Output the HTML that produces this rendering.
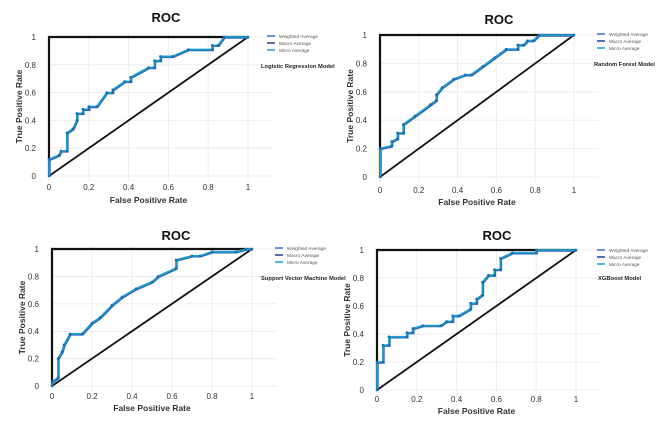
<!DOCTYPE html>
<html><head><meta charset="utf-8"><style>
html,body{margin:0;padding:0;background:#fff;width:669px;height:430px;overflow:hidden}
svg{display:block;font-family:"Liberation Sans",Arial,sans-serif}
</style></head><body>
<svg id="c" width="669" height="430"></svg>
<script>
const ticks=[0,0.2,0.4,0.6,0.8,1];
const tickLabels=["0","0.2","0.4","0.6","0.8","1"];
const legendLabels=["Weighted Average","Macro Average","Micro Average"];
const lrFpr=[0,0,0.05,0.06,0.09,0.09,0.12,0.14,0.14,0.17,0.17,0.2,0.2,0.24,0.29,0.32,0.32,0.38,0.41,0.41,0.5,0.53,0.53,0.56,0.56,0.62,0.7,0.82,0.82,0.85,0.88,1];
const lrTpr=[0,0.12,0.15,0.18,0.18,0.31,0.34,0.4,0.45,0.45,0.48,0.48,0.5,0.5,0.6,0.6,0.62,0.68,0.68,0.71,0.78,0.78,0.83,0.83,0.86,0.86,0.91,0.91,0.94,0.94,1,1];
const rfFpr=[0,0,0.06,0.06,0.09,0.09,0.12,0.12,0.18,0.26,0.29,0.29,0.32,0.38,0.44,0.47,0.53,0.59,0.65,0.71,0.71,0.74,0.76,0.79,0.82,1];
const rfTpr=[0,0.2,0.22,0.25,0.27,0.31,0.31,0.37,0.43,0.51,0.54,0.58,0.63,0.69,0.72,0.72,0.78,0.84,0.9,0.9,0.93,0.93,0.96,0.96,1,1];
const svmFpr=[0,0,0.03,0.03,0.05,0.06,0.09,0.15,0.2,0.24,0.3,0.35,0.42,0.5,0.53,0.62,0.62,0.7,0.74,0.8,0.92,0.97,1];
const svmTpr=[0,0.03,0.06,0.2,0.25,0.3,0.38,0.38,0.46,0.5,0.59,0.65,0.71,0.76,0.8,0.86,0.92,0.95,0.95,0.98,0.98,1,1];
const xgFpr=[0,0,0.03,0.03,0.06,0.06,0.15,0.15,0.18,0.18,0.23,0.32,0.35,0.38,0.38,0.41,0.47,0.47,0.5,0.5,0.53,0.53,0.56,0.59,0.59,0.62,0.62,0.68,0.8,0.8,1];
const xgTpr=[0,0.2,0.2,0.32,0.32,0.38,0.38,0.41,0.41,0.44,0.46,0.46,0.49,0.49,0.53,0.53,0.58,0.62,0.62,0.65,0.68,0.77,0.82,0.82,0.86,0.86,0.94,0.98,0.98,1,1];

const panels=[
 {name:"logistic-regression",x0:49,x1:248,y0:176,y1:37,title:[166,22],model:"Logistic Regression Model",leg:[267,36],ml:[261,68],fpr:lrFpr,tpr:lrTpr,ty:190,xt:203},
 {name:"random-forest",x0:380,x1:574,y0:177,y1:35,title:[499,24],model:"Random Forest Model",leg:[597,34],ml:[594,66],fpr:rfFpr,tpr:rfTpr,ty:193,xt:205},
 {name:"svm",x0:52,x1:252,y0:386,y1:249,title:[176,240],model:"Support Vector Machine Model",leg:[275,248],ml:[261,280],fpr:svmFpr,tpr:svmTpr,ty:399,xt:411},
 {name:"xgboost",x0:377,x1:576,y0:390,y1:250,title:[497,240],model:"XGBoost Model",leg:[597,250],ml:[598,280],fpr:xgFpr,tpr:xgTpr,ty:402,xt:414}
];
const svg=document.getElementById('c');
const NS="http://www.w3.org/2000/svg";
function mk(t,a,parent){const e=document.createElementNS(NS,t);for(const k in a)e.setAttribute(k,a[k]);(parent||svg).appendChild(e);return e;}
panels.forEach(p=>{
 const g=mk('g',{});
 
 
 const sx=v=>p.x0+v*(p.x1-p.x0), sy=v=>p.y0+v*(p.y1-p.y0);
 ticks.forEach((t,i)=>{
  const gl=mk('line',{x1:p.x0,x2:p.x1+25,y1:sy(t),y2:sy(t),stroke:'#ececec','stroke-width':1},g);
  
  
  const gv=mk('line',{x1:sx(t),x2:sx(t),y1:p.y1-3,y2:p.y0+5,stroke:'#ececec','stroke-width':1},g);
  
  
  const yl=mk('text',{x:p.x0-13,y:sy(t)+3,'font-size':8,fill:'#333','text-anchor':'end'},g);yl.textContent=tickLabels[i];
  
  
  const xl=mk('text',{x:sx(t),y:p.ty,'font-size':8,fill:'#333','text-anchor':'middle'},g);xl.textContent=tickLabels[i];
  
  
 });
 const bd=mk('polyline',{points:`${sx(0)},${sy(0)} ${sx(0)},${sy(1)} ${sx(1)},${sy(1)}`,fill:'none',stroke:'#111','stroke-width':2.2},g);
 
 
 const dg=mk('line',{x1:sx(0),y1:sy(0),x2:sx(1),y2:sy(1),stroke:'#111','stroke-width':1.8},g);
 
 
 const pts=p.fpr.map((f,i)=>sx(f)+','+sy(p.tpr[i])).join(' ');
 const sh=mk('polyline',{points:pts,fill:'none',stroke:'#2d5fb0','stroke-width':2,transform:'translate(0.7,0.7)'},g);
 
 
 const ln=mk('polyline',{points:pts,fill:'none',stroke:'#1e9ccc','stroke-width':1.8},g);
 
 
 p.fpr.forEach((f,i)=>{const c=mk('circle',{cx:sx(f),cy:sy(p.tpr[i]),r:1.3,fill:'#1a6fb0'},g);
  
  });
 const ti=mk('text',{x:p.title[0],y:p.title[1],'font-size':13,'font-weight':'bold',fill:'#111','text-anchor':'middle'},g);ti.textContent='ROC';
 
 
 const xt=mk('text',{x:(p.x0+p.x1)/2,y:p.xt,'font-size':8.5,'font-weight':'bold',fill:'#333','text-anchor':'middle'},g);xt.textContent='False Positive Rate';
 
 
 const cy=(p.y0+p.y1)/2, cx=p.x0-27;
 const yt=mk('text',{x:cx,y:cy,'font-size':8.5,'font-weight':'bold',fill:'#333','text-anchor':'middle',transform:`rotate(-90 ${cx} ${cy})`},g);yt.textContent='True Positive Rate';
 
 
 const cols=['#3a6ee0','#1f3f8a','#1aa0d0'];
 legendLabels.forEach((l,i)=>{
  const y=p.leg[1]+i*7;
  const lm=mk('line',{x1:p.leg[0],x2:p.leg[0]+8,y1:y,y2:y,stroke:cols[i],'stroke-width':1.5},g);
  
  
  const lt=mk('text',{x:p.leg[0]+12,y:y+2,'font-size':4.8,fill:'#555'},g);lt.textContent=l;
  
  
 });
 const ml=mk('text',{x:p.ml[0],y:p.ml[1],'font-size':5.8,'font-weight':'bold',fill:'#222'},g);ml.textContent=p.model;
 
 
});
</script>
</body></html>
